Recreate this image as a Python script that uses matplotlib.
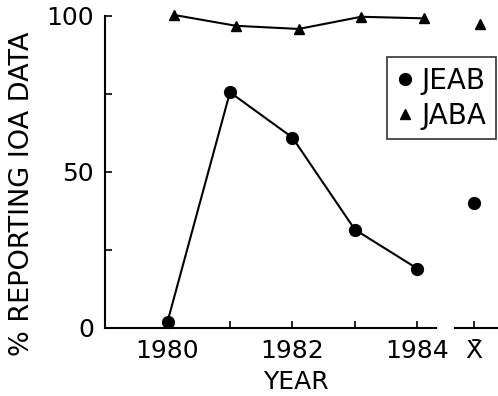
import matplotlib
matplotlib.use("Agg")
import matplotlib.pyplot as plt

# percent of articles reporting IOA data, by year
years = [1980, 1981, 1982, 1983, 1984]
jeab = [2, 75.5, 61, 31.5, 19]
jaba = [100.3, 96.8, 95.8, 99.7, 99.2]

# means shown at the X-bar position
jeab_mean = 40
jaba_mean = 97.4
mean_pos = 1984.9

xtick_pos = [1980, 1981, 1982, 1983, 1984, mean_pos]
xtick_labels = ["1980", "", "1982", "", "1984", "X\u0304"]
ytick_pos = [0, 25, 50, 75, 100]
ytick_labels = ["0", "", "50", "", "100"]

plt.rcParams['font.family'] = ['DejaVu Sans']

fig = plt.figure(figsize=(4.98, 3.96), dpi=100)
ax = fig.add_axes([0.211, 0.172, 0.79, 0.788])

# slight horizontal offset of triangles, as drawn in the original
shift = 0.1
ax.plot(years, jeab, color="black", lw=1.5, marker="o", ms=8.5, clip_on=False)
ax.plot([y + shift for y in years], jaba, color="black", lw=1.5, marker="^",
        ms=7.5, clip_on=False)
ax.plot([mean_pos], [jeab_mean], "ko", ms=8.5, clip_on=False)
ax.plot([mean_pos + shift], [jaba_mean], "k^", ms=7.5, clip_on=False)

ax.set_xlim(1979.0, 1985.3)
ax.set_ylim(0, 100)

for s in ["top", "right"]:
    ax.spines[s].set_visible(False)
ax.spines["bottom"].set_bounds(1979.0, 1984.3)
ax.spines["left"].set_linewidth(1.5)
ax.spines["bottom"].set_linewidth(1.5)
# separate axis stub under the mean
ax.plot([1984.6, 1985.4], [0, 0], color="black", lw=1.5,
        transform=ax.get_xaxis_transform(), clip_on=False)

ax.set_xticks(xtick_pos)
ax.set_xticklabels(xtick_labels)
ax.set_yticks(ytick_pos)
ax.set_yticklabels(ytick_labels)
ax.tick_params(direction="in", length=5, width=1.2, labelsize=18, pad=8)

ax.set_xlabel("YEAR", fontsize=18)
ax.xaxis.set_label_coords(0.486, -0.135)
ax.set_ylabel("% REPORTING IOA DATA", fontsize=19.5)
ax.yaxis.set_label_coords(-0.177, 0.43)

leg = fig.legend(handles=[ax.lines[0], ax.lines[1]], labels=["JEAB", "JABA"],
                 loc="upper left", bbox_to_anchor=(0.777, 0.856),
                 borderaxespad=0, fontsize=20, frameon=True, fancybox=False,
                 handlelength=0.6, handletextpad=0.3, borderpad=0.35,
                 labelspacing=0.25)
for h in leg.legend_handles:
    h.set_linestyle("none")
leg.get_frame().set_edgecolor("black")
leg.get_frame().set_linewidth(1.2)

fig.savefig("out.png", dpi=100)
